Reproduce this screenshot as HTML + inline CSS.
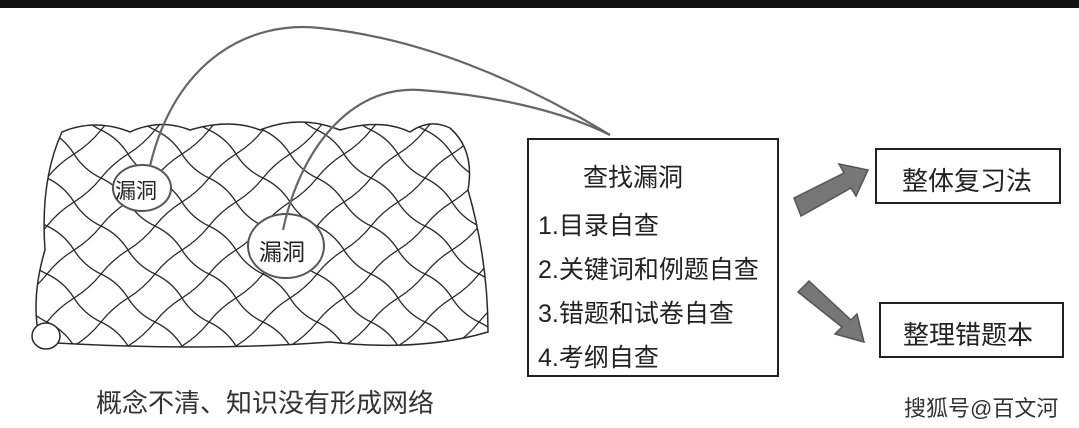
<!DOCTYPE html>
<html><head><meta charset="utf-8"><style>
html,body{margin:0;padding:0;background:#fff;}
body{width:1079px;height:428px;position:relative;overflow:hidden;font-family:"Liberation Sans","Noto Sans CJK SC",sans-serif;}
.bar{position:absolute;left:0;top:0;width:1079px;height:8px;background:#111;}
.box{position:absolute;border:2px solid #222;box-sizing:border-box;background:#fff;color:#222;}
.t{position:absolute;white-space:nowrap;color:#222;}
</style></head><body>
<div class="bar"></div>
<svg width="1079" height="428" style="position:absolute;left:0;top:0">
<defs>
<pattern id="mesh" width="54" height="48" patternUnits="userSpaceOnUse" x="20" y="10">
<path d="M0,0 Q10,16 27,24 Q44,32 54,48 M54,0 Q38,10 27,24 Q16,38 0,48" fill="none" stroke="#2a2a2a" stroke-width="1.3"/>
</pattern>
<clipPath id="netc"><path d="M62,132 Q95,118 130,132 Q160,118 190,130 Q230,118 260,130 Q300,114 340,130 Q380,118 410,132 Q430,118 450,128 Q475,150 468,190 Q488,260 488,332 Q420,352 330,342 Q200,352 40,342 Q30,300 45,250 Q40,180 62,132 Z"/></clipPath>
</defs>
<rect x="0" y="100" width="520" height="270" fill="url(#mesh)" clip-path="url(#netc)"/>
<path d="M62,132 Q95,118 130,132 Q160,118 190,130 Q230,118 260,130 Q300,114 340,130 Q380,118 410,132 Q430,118 450,128 Q475,150 468,190 Q488,260 488,332 Q420,352 330,342 Q200,352 40,342 Q30,300 45,250 Q40,180 62,132 Z" fill="none" stroke="#2a2a2a" stroke-width="1.5"/>
<ellipse cx="46" cy="336" rx="14" ry="13" fill="#fff" stroke="#2a2a2a" stroke-width="1.5"/>
<ellipse cx="142" cy="188" rx="29" ry="23" fill="#fff" stroke="#555" stroke-width="2"/>
<ellipse cx="286" cy="246" rx="38" ry="32" fill="#fff" stroke="#555" stroke-width="2"/>
<path d="M150,166 C175,60 250,20 320,28 C420,38 520,80 610,135" fill="none" stroke="#666" stroke-width="2.2"/>
<path d="M283,230 C300,150 350,85 420,90 C490,95 560,110 610,135" fill="none" stroke="#666" stroke-width="2.2"/>
<polygon points="794,198 844,173 839,164 868,170 856,196 851,188 801,216" fill="#777" stroke="#555" stroke-width="1.5"/>
<polygon points="798,292 842,327 835,334 864,342 857,314 851,320 809,281" fill="#777" stroke="#555" stroke-width="1.5"/>
</svg>
<div class="t" style="left:115px;top:175px;font-size:21px">漏洞</div>
<div class="t" style="left:259px;top:233px;font-size:23px">漏洞</div>
<div class="box" style="left:527px;top:138px;width:252px;height:239px">
<div class="t" style="left:54px;top:18px;font-size:25px">查找漏洞</div>
<div class="t" style="left:9px;top:66px;font-size:25px">1.目录自查</div>
<div class="t" style="left:9px;top:110px;font-size:25px">2.关键词和例题自查</div>
<div class="t" style="left:9px;top:154px;font-size:25px">3.错题和试卷自查</div>
<div class="t" style="left:9px;top:198px;font-size:25px">4.考纲自查</div>
</div>
<div class="box" style="left:875px;top:148px;width:186px;height:56px"><div class="t" style="left:25px;top:11px;font-size:26px">整体复习法</div></div>
<div class="box" style="left:879px;top:302px;width:185px;height:56px"><div class="t" style="left:22px;top:11px;font-size:26px">整理错题本</div></div>
<div class="t" style="left:96px;top:383px;font-size:26px;color:#333">概念不清、知识没有形成网络</div>
<div class="t" style="left:904px;top:391px;font-size:22px;color:#333">搜狐号@百文河</div>
</body></html>
